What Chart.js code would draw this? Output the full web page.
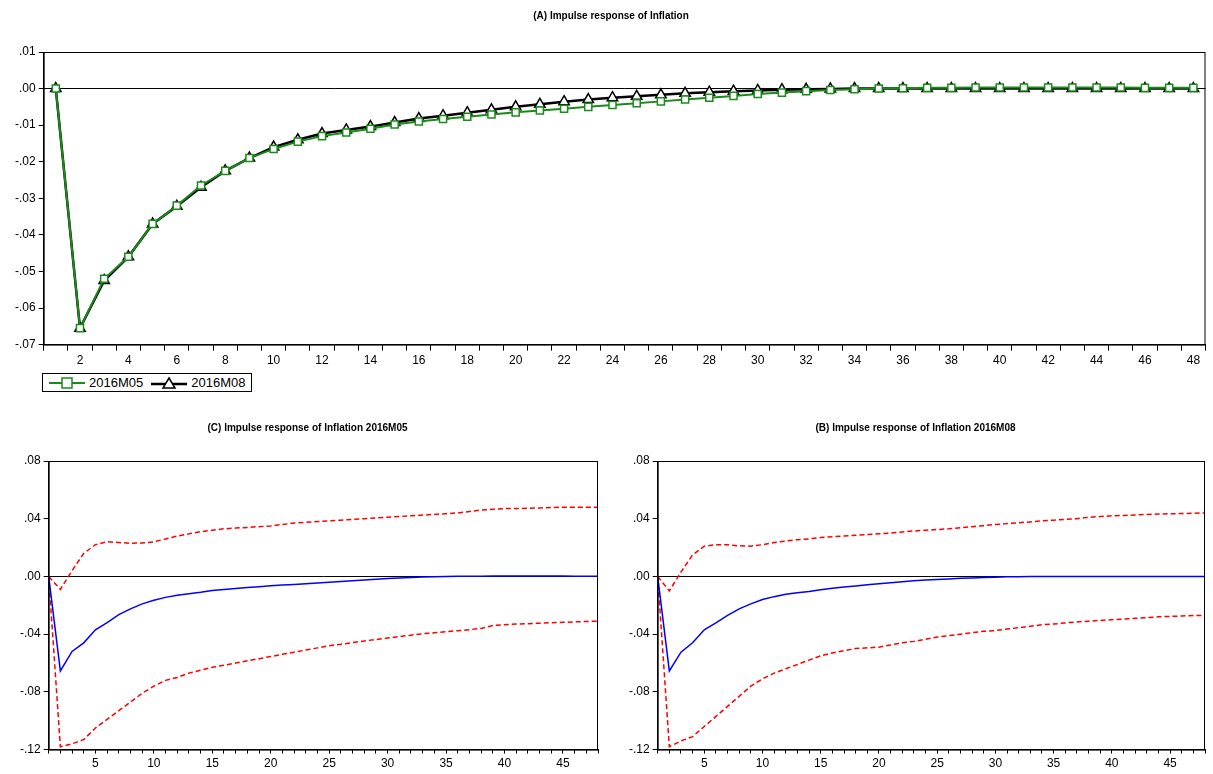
<!DOCTYPE html>
<html>
<head>
<meta charset="utf-8">
<script src="https://cdn.jsdelivr.net/npm/chart.js@4.4.0/dist/chart.umd.min.js"></script>
<style>
  body { margin: 0; background: #fff; font-family: "Liberation Sans", Arial, sans-serif; }
  .box { position: absolute; }
  #legend { position: absolute; left: 42px; top: 373px; border: 1px solid #000; padding: 1px 6px; font-size: 13px; display: flex; gap: 8px; align-items: center; }
  #legend span { display: inline-flex; align-items: center; gap: 4px; }
</style>
</head>
<body>
<div class="box" style="left:0;top:0;width:1213px;height:371px"><canvas id="top"></canvas></div>
<div id="legend">
  <span><svg width="36" height="14"><line x1="0" y1="7" x2="36" y2="7" stroke="#1a8a1a" stroke-width="2"/><rect x="13" y="2" width="10" height="10" fill="#fff" stroke="#1a8a1a" stroke-width="1.5"/></svg>2016M05</span>
  <span><svg width="36" height="14"><line x1="0" y1="8" x2="36" y2="8" stroke="#000" stroke-width="2.5"/><polygon points="18,2 24,12 12,12" fill="#fff" stroke="#000" stroke-width="1.5"/></svg>2016M08</span>
</div>
<div class="box" style="left:0;top:422px;width:606px;height:352px"><canvas id="left"></canvas></div>
<div class="box" style="left:606px;top:422px;width:607px;height:352px"><canvas id="right"></canvas></div>
<script>
const periods = Array.from({ length: 48 }, (_, i) => i + 1);

const infM05 = [0, -0.0655, -0.052, -0.046, -0.037, -0.032, -0.0265, -0.0225, -0.019, -0.0165,
  -0.0145, -0.013, -0.012, -0.011, -0.0098, -0.009, -0.0083, -0.0077, -0.0071, -0.0065,
  -0.006, -0.0055, -0.005, -0.0045, -0.004, -0.0035, -0.003, -0.0025, -0.002, -0.0015,
  -0.0011, -0.0007, -0.0004, -0.0002, 0, 0.0001, 0.0002, 0.0002, 0.0003, 0.0003,
  0.0003, 0.0003, 0.0003, 0.0003, 0.0003, 0.0002, 0.0002, 0.0002];
const infM08 = [0, -0.0655, -0.0525, -0.046, -0.037, -0.0322, -0.027, -0.0225, -0.019, -0.016,
  -0.014, -0.0123, -0.0113, -0.0104, -0.0093, -0.0082, -0.0074, -0.0066, -0.0058, -0.005,
  -0.0043, -0.0036, -0.003, -0.0025, -0.0021, -0.0017, -0.0013, -0.001, -0.0007, -0.0005,
  -0.0003, -0.0002, -0.0001, 0, 0, 0, 0, 0, 0, 0,
  0, 0, 0, 0, 0, 0, 0, 0];

const upperM05 = [0, -0.009, 0.004, 0.016, 0.022, 0.024, 0.0235, 0.023, 0.0232, 0.024,
  0.026, 0.028, 0.0295, 0.031, 0.032, 0.033, 0.0335, 0.034, 0.0345, 0.035,
  0.036, 0.037, 0.0375, 0.038, 0.0385, 0.039, 0.0395, 0.040, 0.0405, 0.041,
  0.0415, 0.042, 0.0425, 0.043, 0.0435, 0.044, 0.045, 0.046, 0.0465, 0.047,
  0.047, 0.0472, 0.0475, 0.0478, 0.048, 0.048, 0.048, 0.048];
const lowerM05 = [0, -0.118, -0.116, -0.113, -0.105, -0.099, -0.093, -0.087, -0.081, -0.076,
  -0.072, -0.070, -0.067, -0.065, -0.063, -0.0615, -0.060, -0.0585, -0.057, -0.0555,
  -0.054, -0.0525, -0.051, -0.0495, -0.048, -0.047, -0.0458, -0.0447, -0.0437, -0.0427,
  -0.0417, -0.0407, -0.0397, -0.039, -0.0383, -0.0376, -0.0369, -0.036, -0.034, -0.0335,
  -0.033, -0.0327, -0.0324, -0.0321, -0.0318, -0.0315, -0.0312, -0.031];

const upperM08 = [0, -0.01, 0.003, 0.015, 0.021, 0.022, 0.022, 0.0212, 0.021, 0.022,
  0.0235, 0.0245, 0.0255, 0.026, 0.027, 0.0275, 0.028, 0.0285, 0.029, 0.0295,
  0.030, 0.0308, 0.0315, 0.032, 0.0325, 0.033, 0.0338, 0.0345, 0.0352, 0.036,
  0.0366, 0.0372, 0.0378, 0.0385, 0.039, 0.0395, 0.040, 0.041, 0.0415, 0.042,
  0.0423, 0.0426, 0.043, 0.0432, 0.0434, 0.0436, 0.0438, 0.044];
const lowerM08 = [0, -0.118, -0.114, -0.111, -0.104, -0.097, -0.090, -0.083, -0.076, -0.071,
  -0.067, -0.064, -0.061, -0.058, -0.055, -0.053, -0.0515, -0.050, -0.0495, -0.049,
  -0.0475, -0.046, -0.045, -0.0435, -0.042, -0.041, -0.040, -0.039, -0.038, -0.0375,
  -0.0365, -0.0355, -0.0345, -0.0335, -0.033, -0.0322, -0.0315, -0.031, -0.0305, -0.030,
  -0.0295, -0.029, -0.0285, -0.028, -0.0277, -0.0274, -0.0271, -0.027];

const topTicks = [0.01, 0, -0.01, -0.02, -0.03, -0.04, -0.05, -0.06, -0.07];
const bottomTicks = [0.08, 0.04, 0, -0.04, -0.08, -0.12];

const FONT = 'Liberation Sans';

// EViews style tick label: ".01", "-.07"
function fmt(v, d) {
  const s = Math.abs(v).toFixed(d).replace(/^0/, '');
  return (v < -1e-9 ? '-' : '') + s;
}

// full frame around plot area
const frame = {
  id: 'frame',
  afterDraw(chart) {
    const a = chart.chartArea, c = chart.ctx;
    c.save();
    c.strokeStyle = '#000';
    c.lineWidth = 1;
    c.strokeRect(a.left + 0.5, a.top + 0.5, a.right - a.left - 1, a.bottom - a.top);
    c.restore();
  }
};

function yAxis(min, max, ticks) {
  return {
    min: min, max: max,
    afterBuildTicks: (s) => { s.ticks = ticks.map(v => ({ value: v })); },
    border: { display: true, color: '#000' },
    grid: {
      color: (ctx) => Math.abs(ctx.tick.value) < 1e-9 ? '#000' : 'rgba(0,0,0,0)',
      tickColor: '#000', tickLength: 5, drawTicks: true
    },
    ticks: { color: '#000', font: { family: FONT, size: 12 }, padding: 3, callback: (v) => fmt(v, 2) }
  };
}

new Chart(document.getElementById('top'), {
  type: 'line',
  data: {
    labels: periods,
    datasets: [
      { label: '2016M05', data: infM05, borderColor: '#1a8a1a', borderWidth: 2,
        pointStyle: 'rect', pointRadius: 5, pointBackgroundColor: '#fff', pointBorderColor: '#1a8a1a', pointBorderWidth: 1.5 },
      { label: '2016M08', data: infM08, borderColor: '#000', borderWidth: 2.5,
        pointStyle: 'triangle', pointRadius: 6, pointBackgroundColor: '#fff', pointBorderColor: '#000', pointBorderWidth: 1.5 }
    ]
  },
  options: {
    responsive: true, maintainAspectRatio: false, animation: false,
    layout: { padding: { left: 12, right: 3, top: 0, bottom: 0 } },
    plugins: {
      legend: { display: false }, tooltip: { enabled: false },
      title: { display: true, text: '(A) Impulse response of Inflation', color: '#000',
        font: { family: FONT, size: 10, weight: 'bold' }, padding: { top: 10, bottom: 30 } }
    },
    scales: {
      x: {
        offset: true,
        border: { display: true, color: '#000' },
        grid: { offset: true, color: 'rgba(0,0,0,0)', tickColor: '#000', tickLength: 6 },
        ticks: { color: '#000', font: { family: FONT, size: 12 }, autoSkip: false, maxRotation: 0,
          callback: (v, i) => (i + 1) % 2 === 0 ? String(i + 1) : '' }
      },
      y: yAxis(-0.07, 0.01, topTicks)
    }
  },
  plugins: [frame]
});

function bandChart(id, title, mid, up, lo, padLeft) {
  new Chart(document.getElementById(id), {
    type: 'line',
    data: {
      labels: periods,
      datasets: [
        { data: periods.map((p, i) => ({ x: p, y: up[i] })), borderColor: '#ff0000', borderWidth: 1.5, borderDash: [5, 3], pointRadius: 0 },
        { data: periods.map((p, i) => ({ x: p, y: mid[i] })), borderColor: '#0000ff', borderWidth: 1.5, pointRadius: 0 },
        { data: periods.map((p, i) => ({ x: p, y: lo[i] })), borderColor: '#ff0000', borderWidth: 1.5, borderDash: [5, 3], pointRadius: 0 }
      ]
    },
    options: {
      responsive: true, maintainAspectRatio: false, animation: false,
      layout: { padding: { left: padLeft, right: 8, top: 0, bottom: 0 } },
      plugins: {
        legend: { display: false }, tooltip: { enabled: false },
        title: { display: true, text: title, color: '#000',
          font: { family: FONT, size: 10, weight: 'bold' }, padding: { top: 0, bottom: 27 } }
      },
      scales: {
        x: {
          type: 'linear', min: 1, max: 48,
          afterBuildTicks: (s) => { s.ticks = periods.map(v => ({ value: v })); },
          border: { display: true, color: '#000' },
          grid: { color: 'rgba(0,0,0,0)', tickColor: '#000', tickLength: 4 },
          ticks: { color: '#000', font: { family: FONT, size: 12 }, autoSkip: false, maxRotation: 0,
            callback: (v) => v % 5 === 0 ? String(v) : '' }
        },
        y: yAxis(-0.12, 0.08, bottomTicks)
      }
    },
    plugins: [frame]
  });
}

bandChart('left', '(C) Impulse response of Inflation 2016M05', infM05, upperM05, lowerM05, 17);
bandChart('right', '(B) Impulse response of Inflation 2016M08', infM08, upperM08, lowerM08, 20);
</script>
</body>
</html>
